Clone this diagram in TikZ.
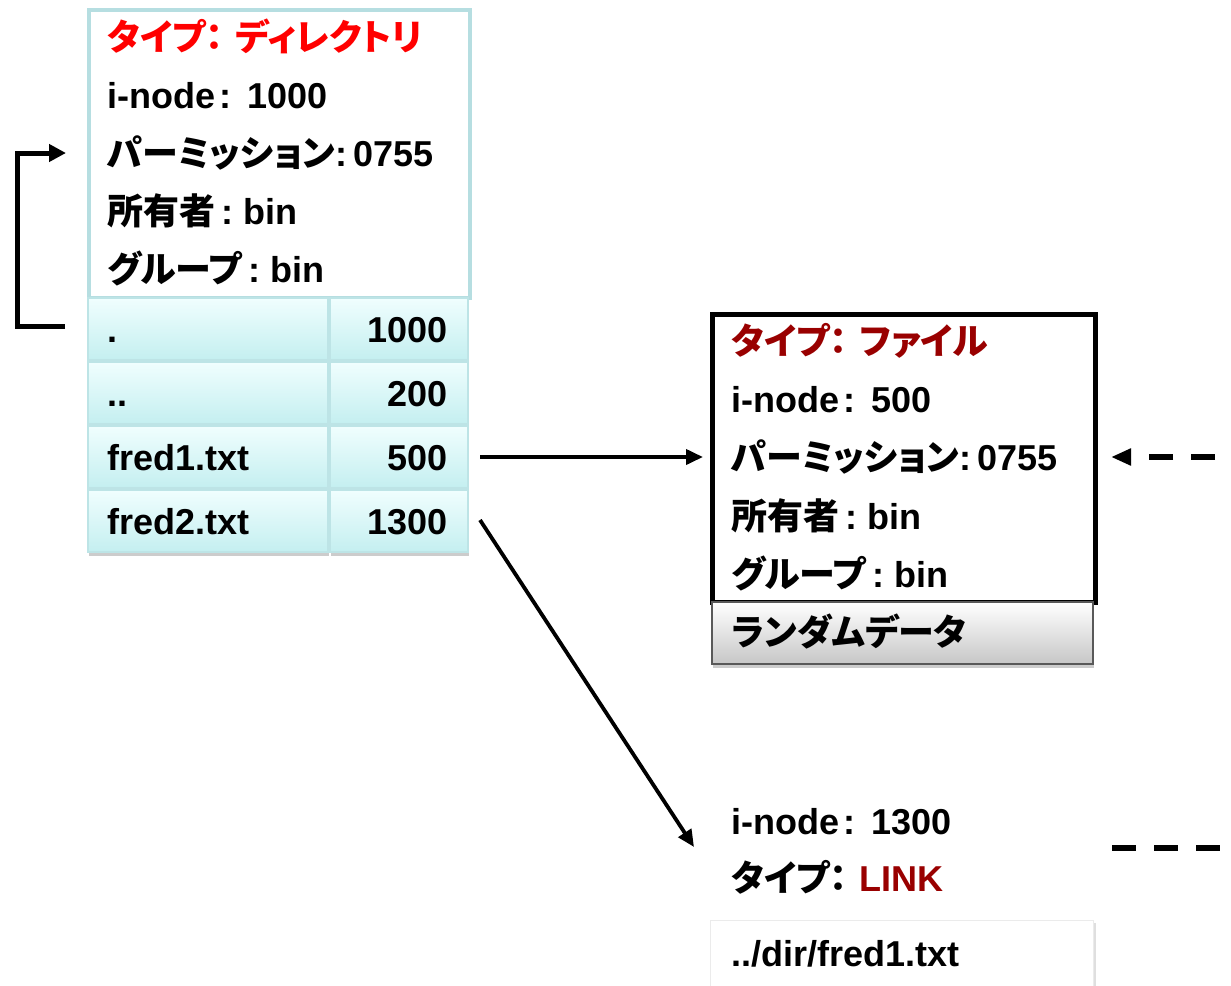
\documentclass[tikz,border=0pt]{standalone}
\usepackage{fontspec}
\setmainfont{Liberation Sans}
\newfontfamily\jpf{Noto Sans CJK JP}[RawFeature={+palt}]
\usetikzlibrary{arrows.meta,shadows}
\definecolor{dred}{HTML}{990000}
\definecolor{boxcyan}{HTML}{B6DEE1}
\definecolor{celltop}{HTML}{F0FEFE}
\definecolor{cellbot}{HTML}{C4EFF0}
\definecolor{cellline}{HTML}{BDE4E6}
\newcommand\jt[1]{{\jpf\bfseries #1}}
\tikzset{
  txt/.style={anchor=base west, inner sep=0pt, font=\fontsize{36}{36}\selectfont\bfseries},
  num/.style={anchor=base east, inner sep=0pt, font=\fontsize{36}{36}\selectfont\bfseries},
  cell/.style={draw=cellline, line width=1.5pt, top color=celltop, bottom color=cellbot},
  arr/.style={line width=3.8pt, -{Triangle[length=17pt,width=15pt]}},
  darr/.style={line width=5.5pt, dash pattern=on 24pt off 18pt},
}
\begin{document}
\begin{tikzpicture}[x=1pt,y=-1pt]
\useasboundingbox (0,0) rectangle (1231,985);
% ---------- directory i-node ----------
\node[draw=boxcyan, line width=3.5pt, fill=white, minimum width=381pt, minimum height=288pt, anchor=north west, inner sep=0pt] (dirhead) at (87,8) {};
\node[txt, text=red] (d1) at (107,50) {\jt{タイプ：}\hspace{12pt}\jt{ディレクトリ}};
\node[txt] (d2) at (107,108) {i-node\hspace{4pt}:\hspace{16pt}1000};
\node[txt] (d3) at (107,166) {\jt{パーミッション}:\hspace{6pt}0755};
\node[txt] (d4) at (107,224) {\jt{所有者}\,:\hspace{10pt}bin};
\node[txt] (d5) at (107,282) {\jt{グループ}\,:\hspace{10pt}bin};
% table
\foreach \y in {298,362,426,490}{
  \path[cell, drop shadow={shadow xshift=1pt, shadow yshift=-4pt, opacity=0.4}] (88,\y) rectangle (328,\y+62);
  \path[cell, drop shadow={shadow xshift=1pt, shadow yshift=-4pt, opacity=0.4}] (330,\y) rectangle (468,\y+62);
}
\node[txt] (n1) at (107,342) {.};
\node[num] (v1) at (448,342) {1000};
\node[txt] (n2) at (107,406) {..};
\node[num] (v2) at (448,406) {200};
\node[txt] (n3) at (107,470) {fred1.txt};
\node[num] (v3) at (448,470) {500};
\node[txt] (n4) at (107,534) {fred2.txt};
\node[num] (v4) at (448,534) {1300};
% self loop
\coordinate (loopS) at (65,326);
\coordinate (loopE) at (66,153);
\draw[line width=5pt, -{Triangle[length=17pt,width=17pt]}] (loopS) -- (17,326) |- (loopE);
% ---------- file i-node ----------
\node[draw=black, line width=4.5pt, fill=white, minimum width=383pt, minimum height=288pt, anchor=north west, inner sep=0pt] (filehead) at (710,312) {};
\node[txt, text=dred] (f1) at (731,354) {\jt{タイプ：}\hspace{12pt}\jt{ファイル}};
\node[txt] (f2) at (731,412) {i-node\hspace{4pt}:\hspace{16pt}500};
\node[txt] (f3) at (731,470) {\jt{パーミッション}:\hspace{6pt}0755};
\node[txt] (f4) at (731,529) {\jt{所有者}\,:\hspace{10pt}bin};
\node[txt] (f5) at (731,587) {\jt{グループ}\,:\hspace{10pt}bin};
\node[draw=black!65, line width=1.8pt, top color=white, bottom color=black!22, minimum width=381pt, minimum height=62pt, anchor=north west, inner sep=0pt, drop shadow={shadow xshift=1pt, shadow yshift=-4pt, opacity=0.4}] (data) at (711,601) {};
\node[txt] (dtext) at (731,645) {\jt{ランダムデータ}};
% ---------- link i-node ----------
\node[txt] (l1) at (731,834) {i-node\hspace{4pt}:\hspace{16pt}1300};
\node[txt] (l2) at (731,891) {\jt{タイプ：}\hspace{12pt}{\color{dred}LINK}};
\node[draw=black!8, line width=1pt, fill=white, minimum width=383pt, minimum height=75pt, anchor=north west, inner sep=0pt, drop shadow={shadow xshift=2pt, shadow yshift=-2pt, opacity=0.25}] (linkbox) at (710,920) {};
\node[txt] (ltext) at (731,966) {../dir/fred1.txt};
% ---------- connectors ----------
\coordinate (a1s) at (480,457);
\coordinate (a1e) at (703,457);
\draw[arr] (a1s) -- (a1e);
\coordinate (a2s) at (480,520);
\coordinate (a2e) at (694,847);
\draw[arr] (a2s) -- (a2e);
\coordinate (r1s) at (1215,457);
\coordinate (r1e) at (1111,457);
\draw[darr, -{Triangle[length=20pt,width=16pt]}] (r1s) -- (r1e);
\coordinate (r2s) at (1112,848);
\coordinate (r2e) at (1231,848);
\draw[darr] (r2s) -- (r2e);
\end{tikzpicture}
\end{document}
